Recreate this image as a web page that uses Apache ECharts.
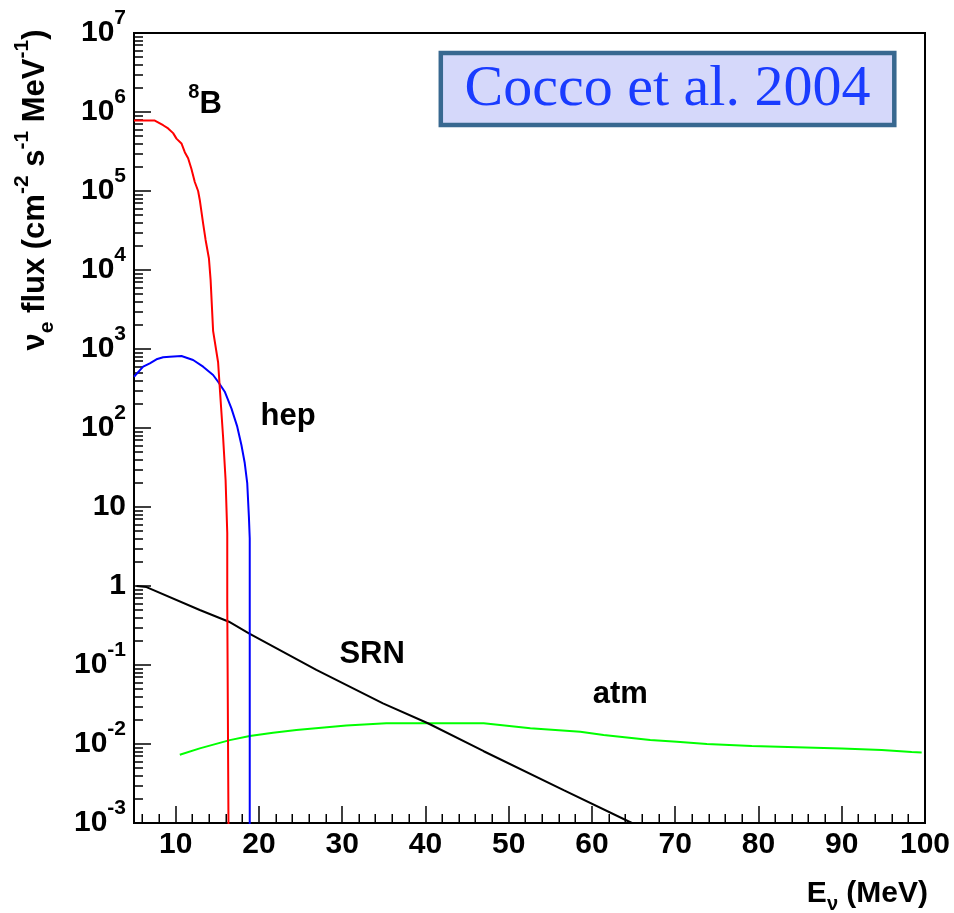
<!DOCTYPE html>
<html>
<head>
<meta charset="utf-8">
<script src="https://cdn.jsdelivr.net/npm/echarts@6/dist/echarts.min.js"></script>
<style>
  html, body { margin: 0; padding: 0; background: #fff; }
  #chart { width: 954px; height: 913px; }
</style>
</head>
<body>
<div id="chart"></div>
<script>
// Electron-neutrino flux spectra, cm^-2 s^-1 MeV^-1 versus E (MeV)

// 8B solar neutrinos
const b8Energy = [5.0, 7.5, 8.5, 9.1, 9.7, 10.1, 10.7, 11.1, 11.5, 11.9, 12.3, 12.7, 12.9, 13.3, 13.6, 14.0, 14.2, 14.5, 15.1, 15.4, 15.7, 16.0, 16.2, 16.2, 16.4, 16.4];
const b8Flux   = [7.8e5, 7.8e5, 6.8e5, 6.2e5, 5.4e5, 4.6e5, 4.0e5, 3.1e5, 2.6e5, 1.9e5, 1.3e5, 1.0e5, 7.7e4, 3.9e4, 2.4e4, 1.4e4, 7.5e3, 1.7e3, 680, 226, 77, 22, 4.7, 0.61, 0.61, 1e-4];

// hep solar neutrinos
const hepEnergy = [5.0, 6.1, 6.9, 7.7, 8.5, 9.3, 10.7, 12.1, 13.3, 14.5, 15.1, 15.9, 16.7, 17.4, 17.9, 18.3, 18.6, 18.8, 18.9, 18.9];
const hepFlux   = [446, 597, 659, 741, 785, 800, 815, 726, 597, 469, 385, 288, 177, 104, 61, 36, 20, 7.5, 4.0, 1e-4];

// supernova relic neutrinos
const srnEnergy = [5.3, 6.5, 12.9, 16.4, 18.8, 26.9, 34.9, 40.3, 47.0, 56.6, 64.8];
const srnFlux   = [1.0, 0.97, 0.497, 0.353, 0.252, 0.0865, 0.0327, 0.0183, 0.0081, 0.0026, 0.001];

// atmospheric neutrinos
const atmEnergy = [10.5, 12.9, 16.5, 18.9, 21.7, 24.5, 30.5, 35.3, 47.0, 52.6, 58.6, 61.4, 64.2, 67.0, 70.2, 73.8, 79.2, 90.0, 94.8, 98.4, 99.6];
const atmFlux   = [7.3e-3, 8.8e-3, 1.12e-2, 1.26e-2, 1.39e-2, 1.50e-2, 1.71e-2, 1.83e-2, 1.83e-2, 1.58e-2, 1.43e-2, 1.30e-2, 1.21e-2, 1.12e-2, 1.07e-2, 1.0e-2, 9.4e-3, 8.8e-3, 8.4e-3, 7.9e-3, 7.8e-3];

// curve names, written next to each curve
const curveNames = ['^8B', 'hep', 'SRN', 'atm'];

// axis ticks
const xMajorTicks = [10, 20, 30, 40, 50, 60, 70, 80, 90, 100];
const xTickLabels = ['10', '20', '30', '40', '50', '60', '70', '80', '90', '100'];
const xMinorTicks = [6, 8, 12, 14, 16, 18, 22, 24, 26, 28, 32, 34, 36, 38, 42, 44, 46, 48,
                     52, 54, 56, 58, 62, 64, 66, 68, 72, 74, 76, 78, 82, 84, 86, 88, 92, 94, 96, 98];
const yDecades = [-3, -2, -1, 0, 1, 2, 3, 4, 5, 6, 7];
const yTickLabels = ['10^-3', '10^-2', '10^-1', '1', '10', '10^2', '10^3', '10^4', '10^5', '10^6', '10^7'];

// anchors (energy, flux) of the curve names
const nameAnchors = [[13.53, 1.23e6], [23.5, 142], [33.6, 0.1355], [63.4, 0.0422]];

const FONT = 'Liberation Sans, Arial, Helvetica, sans-serif';
const Y_MIN = 1e-3, Y_MAX = 1e7;
const MINOR_TICK_LEN = 9;

// minor ticks of the log axis sit at log10(k * 10^n), k = 2..9
const yMinorTicks = [];
for (let n = -3; n < 7; n++) {
  for (let k = 2; k <= 9; k++) yMinorTicks.push(Math.log10(k) + n);
}

function pairs(xs, ys) { return xs.map((x, i) => [x, ys[i]]); }

// 'a^b' -> rich text with b raised; '^8B' -> raised 8 followed by B
function supRich(s, main, sup) {
  const i = s.indexOf('^');
  if (i < 0) return '{' + main + '|' + s + '}';
  const base = s.slice(0, i);
  const rest = s.slice(i + 1);
  const m = rest.match(/^([-0-9]+)(.*)$/);
  let out = base ? '{' + main + '|' + base + '}' : '';
  out += '{' + sup + '|' + m[1] + '}';
  if (m[2]) out += '{' + main + '|' + m[2] + '}';
  return out;
}

const chart = echarts.init(document.getElementById('chart'), null, { renderer: 'canvas' });

const lineSeries = (name, xs, ys, color) => ({
  name, type: 'line', xAxisIndex: 0, yAxisIndex: 0,
  data: pairs(xs, ys), showSymbol: false, symbol: 'none', clip: true,
  lineStyle: { color, width: 2 }, silent: true, animation: false, z: 3
});

const tickStyle = { color: '#000', width: 1.5 };
const frameLine = { color: '#000', width: 2 };

const decorations = [
  {
    type: 'rect', z: 10,
    shape: { x: 440.8, y: 53, width: 453.5, height: 72 },
    style: { fill: '#d5d8fa', stroke: '#386890', lineWidth: 4.5 }
  },
  {
    type: 'text', z: 11, x: 667.5, y: 90,
    style: {
      text: 'Cocco et al. 2004', fill: '#1a3cff',
      font: '58px "Liberation Serif", "Times New Roman", serif',
      align: 'center', verticalAlign: 'middle'
    }
  },
  {
    type: 'text', z: 11, x: 35, y: 190, rotation: Math.PI / 2,
    style: {
      text: '{m|ν}{b|e}{m| flux (cm}{s|-2}{m| s}{s|-1}{m| MeV}{s|-1}{m|)}',
      align: 'center', verticalAlign: 'middle',
      rich: {
        m: { fontFamily: FONT, fontWeight: 'bold', fontSize: 31, lineHeight: 46, verticalAlign: 'middle', fill: '#000' },
        s: { fontFamily: FONT, fontWeight: 'bold', fontSize: 21, lineHeight: 21, verticalAlign: 'top', fill: '#000' },
        b: { fontFamily: FONT, fontWeight: 'bold', fontSize: 21, lineHeight: 21, verticalAlign: 'bottom', fill: '#000' }
      }
    }
  },
  {
    type: 'text', z: 11, x: 928, y: 894,
    style: {
      text: '{m|E}{b|ν}{m| (MeV)}',
      align: 'right', verticalAlign: 'middle',
      rich: {
        m: { fontFamily: FONT, fontWeight: 'bold', fontSize: 30, lineHeight: 40, verticalAlign: 'middle', fill: '#000' },
        b: { fontFamily: FONT, fontWeight: 'bold', fontSize: 20, lineHeight: 20, verticalAlign: 'bottom', fill: '#000' }
      }
    }
  }
];

chart.setOption({
  animation: false,
  backgroundColor: '#fff',
  grid: { left: 134, right: 29, top: 33, bottom: 90, show: true, borderColor: '#000', borderWidth: 2, backgroundColor: 'transparent' },
  xAxis: [
    {
      type: 'value', min: 5, max: 100, position: 'bottom',
      axisLine: { show: true, onZero: false, lineStyle: frameLine },
      axisTick: { show: true, inside: true, length: 17, customValues: xMajorTicks, lineStyle: tickStyle },
      axisLabel: {
        show: true, customValues: xMajorTicks, margin: 7, color: '#000',
        fontFamily: FONT, fontWeight: 'bold', fontSize: 30,
        formatter: v => xTickLabels[xMajorTicks.indexOf(v)]
      },
      splitLine: { show: false }
    }
  ],
  yAxis: [
    {
      type: 'log', logBase: 10, min: Y_MIN, max: Y_MAX, position: 'left',
      axisLine: { show: true, onZero: false, lineStyle: frameLine },
      axisTick: { show: false }, axisLabel: { show: false }, splitLine: { show: false }
    },
    {
      type: 'value', min: -3, max: 7, interval: 1, position: 'left',
      axisLine: { show: false, onZero: false },
      axisTick: { show: true, inside: true, length: 17, lineStyle: tickStyle },
      axisLabel: {
        show: true, margin: 8, color: '#000',
        formatter: v => supRich(yTickLabels[yDecades.indexOf(Math.round(v))], 'm', 's'),
        rich: {
          m: { fontFamily: FONT, fontWeight: 'bold', fontSize: 30, lineHeight: 50, verticalAlign: 'middle', color: '#000' },
          s: { fontFamily: FONT, fontWeight: 'bold', fontSize: 21, lineHeight: 21, verticalAlign: 'top', color: '#000' }
        }
      },
      splitLine: { show: false }
    },
    {
      type: 'value', min: -3, max: 7, position: 'left',
      axisLine: { show: false, onZero: false },
      axisTick: { show: true, inside: true, length: MINOR_TICK_LEN, customValues: yMinorTicks, lineStyle: tickStyle },
      axisLabel: { show: false },
      splitLine: { show: false }
    }
  ],
  series: [
    lineSeries('atm', atmEnergy, atmFlux, '#00ff00'),
    lineSeries('SRN', srnEnergy, srnFlux, '#000000'),
    lineSeries('hep', hepEnergy, hepFlux, '#0000ff'),
    lineSeries('8B', b8Energy, b8Flux, '#ff0000'),
    {
      name: 'names', type: 'scatter', xAxisIndex: 0, yAxisIndex: 0,
      data: nameAnchors, symbolSize: 0, silent: true, z: 5,
      itemStyle: { color: '#000', opacity: 1 },
      label: {
        show: true, position: 'inside', align: 'center', verticalAlign: 'middle', opacity: 1,
        color: '#000', textBorderWidth: 0, textBorderColor: 'transparent',
        formatter: p => supRich(curveNames[p.dataIndex], 'm', 's'),
        rich: {
          m: { fontFamily: FONT, fontWeight: 'bold', fontSize: 31, lineHeight: 44, verticalAlign: 'middle', color: '#000', textBorderWidth: 0 },
          s: { fontFamily: FONT, fontWeight: 'bold', fontSize: 20, lineHeight: 20, verticalAlign: 'top', color: '#000', textBorderWidth: 0 }
        }
      }
    }
  ]
});

// minor ticks of the energy axis, placed through the axis scale
const yBottom = chart.convertToPixel({ yAxisIndex: 0 }, Y_MIN);
const xMinorMarks = xMinorTicks.map(v => {
  const px = Math.round(chart.convertToPixel({ xAxisIndex: 0 }, v)) + 0.25;
  return {
    type: 'line', z: 20, silent: true,
    shape: { x1: px, y1: yBottom, x2: px, y2: yBottom - MINOR_TICK_LEN },
    style: { stroke: '#000', lineWidth: 1.5 }
  };
});

chart.setOption({ graphic: decorations.concat(xMinorMarks) });
</script>
</body>
</html>
